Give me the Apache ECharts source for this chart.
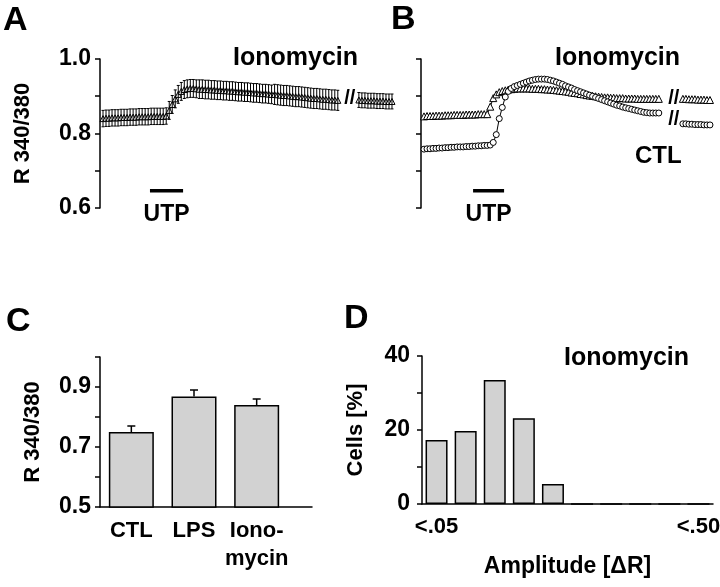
<!DOCTYPE html>
<html><head><meta charset="utf-8">
<script src="https://cdn.jsdelivr.net/npm/echarts@6/dist/echarts.min.js"></script>
<style>html,body{margin:0;padding:0;background:#fff}#c{width:720px;height:587px}</style>
</head><body><div id="c"></div>
<script>
const FONT = '"Liberation Sans", Arial, Helvetica, sans-serif';

// ---------- Panel A: Ionomycin trace (mean ± error) ----------
const aSeg1Start = 1;
const aSeg1 = [0.840,0.841,0.841,0.842,0.842,0.842,0.843,0.843,0.843,0.844,0.844,0.844,0.845,0.845,0.845,0.845,0.846,0.846,0.846,0.846,0.846,0.847,
  0.862,0.878,0.893,0.905,0.913,0.918,0.920,0.921,0.921,0.920,
  0.919,0.919,0.918,0.918,0.917,0.917,0.916,0.916,0.915,0.915,
  0.914,0.914,0.913,0.912,0.912,0.911,0.911,0.910,0.909,0.909,
  0.908,0.907,0.907,0.906,0.905,0.905,0.904,0.903,0.902,0.902,
  0.901,0.900,0.899,0.899,0.898,0.897,0.896,0.895,0.894,0.894,
  0.893,0.892,0.892,0.891,0.890,0.890,0.889];
const aErr1 = [0.022,0.022,0.022,0.022,0.022,0.022,0.022,0.022,0.022,0.022,0.022,0.022,0.022,0.022,0.022,0.022,0.022,0.022,0.022,0.022,0.022,0.022,
  0.024,0.024,0.024,0.024,0.024,0.024,0.024,0.024,0.024,0.024,
  0.025,0.025,0.025,0.025,0.025,0.025,0.025,0.025,0.025,0.025,
  0.025,0.025,0.025,0.025,0.025,0.025,0.025,0.025,0.025,0.025,
  0.025,0.025,0.025,0.025,0.025,0.027,0.027,0.027,0.027,0.027,
  0.027,0.027,0.027,0.027,0.027,0.027,0.027,0.027,0.027,0.027,
  0.027,0.027,0.027,0.027,0.027,0.027,0.027];
const aSeg2Start = 86;
const aSeg2 = [0.890,0.889,0.889,0.888,0.888,0.888,0.887,0.887,0.887,0.886,0.886,0.886];
const aErr2 = [0.020,0.020,0.020,0.020,0.020,0.020,0.020,0.020,0.020,0.020,0.020,0.020];
const aBreak = [83, 0.894];
const aUtp = [16.6, 27.6];

// ---------- Panel B: Ionomycin (triangles) vs CTL (circles) ----------
const bSeg1Start = 1;
const bIono1 = [0.846,0.847,0.847,0.847,0.848,0.848,0.848,0.849,0.849,0.849,0.850,0.850,0.850,0.850,0.851,0.851,0.851,0.851,0.852,0.852,0.852,0.852,
  0.872,0.895,0.905,0.911,0.914,0.916,0.918,0.919,0.920,
  0.921,0.921,0.921,0.921,0.921,0.920,0.920,0.920,0.919,0.919,0.918,0.918,0.917,0.916,
  0.915,0.914,0.913,0.912,0.910,0.909,0.908,0.906,0.905,0.903,0.902,
  0.901,0.900,0.899,0.898,0.897,0.897,0.896,0.896,0.895,0.895,
  0.895,0.894,0.894,0.894,0.894,0.893,0.893,0.893,0.893,0.893,0.893,0.893,0.893];
const bCtl1 = [0.758,0.759,0.759,0.760,0.760,0.761,0.761,0.762,0.762,0.763,0.763,0.764,0.764,0.764,0.765,0.765,0.766,0.766,0.767,0.767,0.768,0.768,0.769,
  0.776,0.797,0.840,0.870,0.898,0.913,0.921,0.926,0.929,0.932,0.935,0.938,0.941,0.943,0.945,0.946,0.946,0.946,
  0.945,0.943,0.941,0.938,0.935,0.932,0.928,0.925,0.922,0.918,0.915,0.912,0.909,0.906,0.903,0.900,0.897,0.894,0.891,0.888,
  0.885,0.882,0.879,0.876,0.874,0.871,0.869,0.867,0.865,0.863,0.861,0.859,0.857,0.856,0.855,0.855,0.855,0.855];
const bSeg2Start = 87;
const bIono2 = [0.893,0.893,0.892,0.892,0.892,0.891,0.891,0.891,0.890,0.890];
const bCtl2 = [0.826,0.826,0.825,0.825,0.824,0.824,0.824,0.823,0.823,0.823];
const bBreaks = [[84, 0.895], [84, 0.837]];
const bUtp = [17.3, 27.6];
const utpLevel = 0.646;

// ---------- Panel C: bar chart ----------
const cCategories = ['CTL', 'LPS', 'Iono-\nmycin'];
const cValues = [0.75, 0.868, 0.84];
const cErrors = [0.02, 0.022, 0.02];

// ---------- Panel D: histogram ----------
const dCategories = ['<.05','<.10','<.15','<.20','<.25','<.30','<.35','<.40','<.45','<.50'];
const dValues = [17.3, 19.7, 33.5, 23.2, 5.4, 0, 0, 0, 0, 0];

const toXY = (start, arr) => arr.map((v, i) => [start + i, v]);
const withErr = (start, arr, err) => arr.map((v, i) => [start + i, v, err[i]]);

const black = '#000';
const axisLineStyle = { lineStyle: { color: black, width: 1.5 } };
const tickStyle = { show: true, length: 5, lineStyle: { color: black, width: 1.5 } };
const labelBase = { color: black, fontFamily: FONT, fontWeight: 'bold', fontSize: 23 };
const nameStyle = { color: black, fontFamily: FONT, fontWeight: 'bold', fontSize: 22 };

function errItemSym(params, api) {
  const x = api.value(0), v = api.value(1), e = api.value(2);
  const hi = api.coord([x, v + e]), lo = api.coord([x, v - e]);
  const cap = 1.5, st = { stroke: black, lineWidth: 1 };
  return { type: 'group', children: [
    { type: 'line', shape: { x1: hi[0], y1: hi[1], x2: lo[0], y2: lo[1] }, style: st },
    { type: 'line', shape: { x1: hi[0] - cap, y1: hi[1], x2: hi[0] + cap, y2: hi[1] }, style: st },
    { type: 'line', shape: { x1: lo[0] - cap, y1: lo[1], x2: lo[0] + cap, y2: lo[1] }, style: st }
  ]};
}
function errItemUp(params, api) {
  const x = api.value(0), v = api.value(1), e = api.value(2);
  const top = api.coord([x, v]), hi = api.coord([x, v + e]);
  const cap = 4, st = { stroke: black, lineWidth: 1.5 };
  return { type: 'group', children: [
    { type: 'line', shape: { x1: top[0], y1: top[1], x2: hi[0], y2: hi[1] }, style: st },
    { type: 'line', shape: { x1: hi[0] - cap, y1: hi[1], x2: hi[0] + cap, y2: hi[1] }, style: st }
  ]};
}

const traceYAxis = (gi, showLabels) => ({
  gridIndex: gi, type: 'value', min: 0.6, max: 1.0, interval: 0.1,
  axisLine: Object.assign({ show: true }, axisLineStyle), axisTick: tickStyle, splitLine: { show: false },
  axisLabel: Object.assign({ show: showLabels, margin: 9,
    formatter: v => (Math.round(v * 10) % 2 === 0 ? v.toFixed(1) : '') }, labelBase),
  name: showLabels ? 'R 340/380' : '', nameLocation: 'middle', nameGap: 66, nameTextStyle: nameStyle
});
const traceXAxis = gi => ({ gridIndex: gi, type: 'value', min: 0, max: 98, show: false });

const lineTri = (gi, data, size) => ({
  type: 'line', xAxisIndex: gi, yAxisIndex: gi, data, symbol: 'triangle', symbolSize: size || 6,
  showAllSymbol: true, itemStyle: { color: '#fff', borderColor: black, borderWidth: 1 },
  lineStyle: { color: black, width: 1 }, z: 3, animation: false
});
const lineCirc = (gi, data) => ({
  type: 'line', xAxisIndex: gi, yAxisIndex: gi, data, symbol: 'circle', symbolSize: 6,
  showAllSymbol: true, itemStyle: { color: '#fff', borderColor: black, borderWidth: 1 },
  lineStyle: { color: black, width: 1 }, z: 4, animation: false
});
const txt = (size) => ({ color: black, fontFamily: FONT, fontWeight: 'bold', fontSize: size, textBorderWidth: 0, opacity: 1 });
const breakMark = (gi, pts) => ({
  type: 'scatter', xAxisIndex: gi, yAxisIndex: gi, data: pts, symbolSize: 0, z: 6,
  itemStyle: { opacity: 1 },
  label: Object.assign({ show: true, position: 'inside', formatter: '//' }, txt(20))
});
const utpBar = (gi, range) => ([
  { type: 'line', xAxisIndex: gi, yAxisIndex: gi, data: [[range[0], utpLevel], [range[1], utpLevel]],
    symbol: 'none', lineStyle: { color: black, width: 3.5 }, animation: false },
  { type: 'scatter', xAxisIndex: gi, yAxisIndex: gi, data: [[(range[0] + range[1]) / 2, utpLevel]], symbolSize: 0,
    itemStyle: { opacity: 1 },
    label: Object.assign({ show: true, position: 'bottom', distance: 12, formatter: 'UTP' }, txt(23)) }
]);

const titleAt = (text, left, top, size) => ({
  text, left, top, padding: 0,
  textStyle: { color: black, fontFamily: FONT, fontWeight: 'bold', fontSize: size }
});

const chart = echarts.init(document.getElementById('c'), null, { renderer: 'canvas' });
chart.setOption({
  backgroundColor: '#fff',
  animation: false,
  title: [
    titleAt('A', 3, 4, 34), titleAt('B', 391, 3, 34), titleAt('C', 6, 305, 34), titleAt('D', 344, 302, 34),
    titleAt('Ionomycin', 233, 46, 25), titleAt('Ionomycin', 555, 46, 25), titleAt('CTL', 635, 144, 24),
    titleAt('Ionomycin', 564, 346, 25)
  ],
  grid: [
    { left: 100, top: 59, width: 295, height: 149, containLabel: false, outerBoundsMode: 'none' },
    { left: 421, top: 59, width: 295, height: 149, containLabel: false, outerBoundsMode: 'none' },
    { left: 100, top: 357, width: 188, height: 150, containLabel: false, outerBoundsMode: 'none' },
    { left: 100, top: 357, width: 212, height: 150, containLabel: false, outerBoundsMode: 'none' },
    { left: 422, top: 356, width: 291, height: 148, containLabel: false, outerBoundsMode: 'none' }
  ],
  xAxis: [
    traceXAxis(0), traceXAxis(1),
    { gridIndex: 2, type: 'category', data: cCategories, axisLine: { show: false }, axisTick: { show: false },
      axisLabel: Object.assign({}, labelBase, { margin: 10, interval: 0, fontSize: 22, lineHeight: 28 }) },
    { gridIndex: 3, type: 'value', min: 0, max: 1, axisLine: Object.assign({ show: true }, axisLineStyle),
      axisTick: { show: false }, axisLabel: { show: false }, splitLine: { show: false } },
    { gridIndex: 4, type: 'category', data: dCategories, axisLine: Object.assign({ show: true }, axisLineStyle),
      axisTick: { show: false },
      axisLabel: Object.assign({}, labelBase, { margin: 12, interval: 0, fontSize: 22,
        formatter: (v, i) => (i === 0 || i === dCategories.length - 1 ? v : '') }),
      name: 'Amplitude [ΔR]', nameLocation: 'middle', nameGap: 51, nameTextStyle: Object.assign({}, nameStyle, { fontSize: 23 }) }
  ],
  yAxis: [
    traceYAxis(0, true), traceYAxis(1, false),
    { gridIndex: 2, type: 'value', min: 0.5, max: 1.0, interval: 0.1,
      axisLine: Object.assign({ show: true }, axisLineStyle), axisTick: tickStyle, splitLine: { show: false },
      axisLabel: Object.assign({ margin: 9,
        formatter: v => (Math.round(v * 10) % 2 === 1 ? v.toFixed(1) : '') }, labelBase),
      name: 'R 340/380', nameLocation: 'middle', nameGap: 56, nameTextStyle: nameStyle },
    { gridIndex: 3, type: 'value', min: 0, max: 1, show: false },
    { gridIndex: 4, type: 'value', min: 0, max: 40, interval: 10,
      axisLine: Object.assign({ show: true }, axisLineStyle), axisTick: tickStyle, splitLine: { show: false },
      axisLabel: Object.assign({ margin: 12,
        formatter: v => (v % 20 === 0 ? String(v) : '') }, labelBase),
      name: 'Cells [%]', nameLocation: 'middle', nameGap: 55, nameTextStyle: nameStyle }
  ],
  series: [
    // Panel A
    lineTri(0, toXY(aSeg1Start, aSeg1)),
    lineTri(0, toXY(aSeg2Start, aSeg2)),
    { type: 'custom', xAxisIndex: 0, yAxisIndex: 0, renderItem: errItemSym, data: withErr(aSeg1Start, aSeg1, aErr1), z: 5 },
    { type: 'custom', xAxisIndex: 0, yAxisIndex: 0, renderItem: errItemSym, data: withErr(aSeg2Start, aSeg2, aErr2), z: 5 },
    breakMark(0, [aBreak]),
    ...utpBar(0, aUtp),
    // Panel B
    lineTri(1, toXY(bSeg1Start, bIono1), 7),
    lineTri(1, toXY(bSeg2Start, bIono2), 7),
    lineCirc(1, toXY(bSeg1Start, bCtl1)),
    lineCirc(1, toXY(bSeg2Start, bCtl2)),
    breakMark(1, bBreaks),
    ...utpBar(1, bUtp),
    // Panel C
    { type: 'bar', xAxisIndex: 2, yAxisIndex: 2, data: cValues, barWidth: 45,
      itemStyle: { color: '#d2d2d2', borderColor: black, borderWidth: 1.5 } },
    { type: 'custom', xAxisIndex: 2, yAxisIndex: 2, renderItem: errItemUp,
      data: cValues.map((v, i) => [i, v, cErrors[i]]), z: 5 },
    // Panel D
    { type: 'bar', xAxisIndex: 4, yAxisIndex: 4, data: dValues, barWidth: 22,
      itemStyle: { color: '#d2d2d2', borderColor: black, borderWidth: 1.5 } }
  ]
});
</script></body></html>
